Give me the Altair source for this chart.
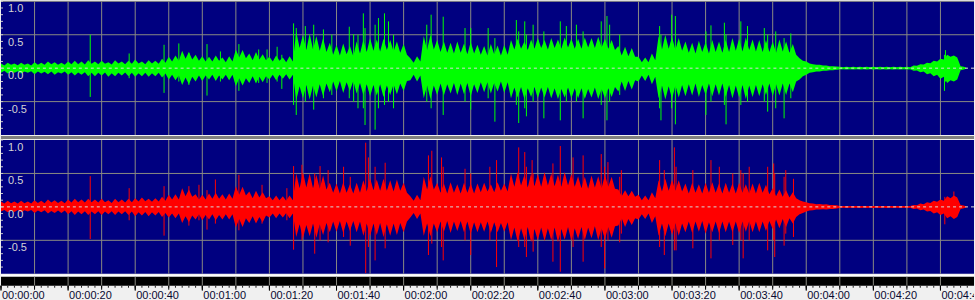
import altair as alt
import pandas as pd

# ---------------- data ----------------
TIME = list(range(0, 290, 2))       # times of the peak envelope samples, s
TIME_CORE = list(range(1, 290, 2))  # times of the solid-core samples, s

# outer envelope of the dense peaks (per 2 s)
GREEN_HI = [0.07, 0.08, 0.07, 0.08, 0.07,
            0.09, 0.08, 0.10, 0.09, 0.08,
            0.10, 0.11, 0.10, 0.12,
            0.10, 0.11, 0.09, 0.12, 0.10, 0.11,
            0.13, 0.10, 0.12, 0.11,
            0.14,
            0.17, 0.19,
            0.26, 0.24,
            0.20, 0.18,
            0.17, 0.19, 0.16, 0.18,
            0.28, 0.27,
            0.22, 0.24, 0.21,
            0.17, 0.19, 0.16, 0.18,
            0.55, 0.50, 0.52, 0.48, 0.45,
            0.38, 0.35, 0.37, 0.33, 0.40,
            0.42, 0.45, 0.43, 0.44, 0.42, 0.40, 0.36,
            0.15, 0.18,
            0.48, 0.50,
            0.42, 0.40, 0.38, 0.40, 0.37, 0.39,
            0.35, 0.33, 0.36, 0.34, 0.35,
            0.42, 0.44, 0.40, 0.43, 0.45, 0.42,
            0.45, 0.43, 0.46, 0.44,
            0.44, 0.46, 0.45, 0.47, 0.44, 0.42,
            0.33, 0.32, 0.30,
            0.17, 0.16, 0.22,
            0.48, 0.50, 0.47, 0.45,
            0.40, 0.38, 0.41, 0.39, 0.42, 0.40, 0.42,
            0.45, 0.44, 0.46, 0.43, 0.42,
            0.42, 0.40, 0.43, 0.40, 0.36,
            0.15,
            0.10,
            0.06, 0.05, 0.04, 0.03,
            0.02, 0.02, 0.02, 0.02, 0.02, 0.02, 0.02, 0.02, 0.02, 0.02, 0.02,
            0.04, 0.06, 0.08, 0.11, 0.14,
            0.20, 0.19,
            0.03,
            0.0]

GREEN_LO = [-0.07, -0.08, -0.07, -0.08, -0.07,
            -0.09, -0.08, -0.09, -0.10, -0.08,
            -0.10, -0.11, -0.10, -0.12,
            -0.12, -0.11, -0.13, -0.12, -0.11, -0.12,
            -0.13, -0.12, -0.13, -0.12,
            -0.14,
            -0.17, -0.18,
            -0.25, -0.24,
            -0.20, -0.19,
            -0.17, -0.19, -0.17, -0.18,
            -0.27, -0.26,
            -0.22, -0.23, -0.21,
            -0.17, -0.18, -0.16, -0.17,
            -0.48, -0.45, -0.47, -0.44, -0.42,
            -0.36, -0.35, -0.37, -0.34, -0.38,
            -0.40, -0.42, -0.41, -0.43, -0.40, -0.39, -0.34,
            -0.18, -0.20,
            -0.45, -0.46,
            -0.40, -0.41, -0.38, -0.40, -0.39, -0.42,
            -0.37, -0.36, -0.38, -0.35, -0.37,
            -0.45, -0.44, -0.46, -0.43, -0.45, -0.44,
            -0.45, -0.46, -0.44, -0.45,
            -0.45, -0.46, -0.44, -0.46, -0.45, -0.43,
            -0.35, -0.34, -0.32,
            -0.20, -0.19, -0.24,
            -0.45, -0.47, -0.46, -0.44,
            -0.42, -0.41, -0.43, -0.40, -0.42, -0.41, -0.43,
            -0.45, -0.44, -0.46, -0.43, -0.42,
            -0.40, -0.42, -0.41, -0.40, -0.36,
            -0.17,
            -0.10,
            -0.06, -0.05, -0.04, -0.03,
            -0.02, -0.02, -0.02, -0.02, -0.02, -0.02, -0.02, -0.02, -0.02, -0.02, -0.02,
            -0.04, -0.06, -0.09, -0.12, -0.16,
            -0.22, -0.20,
            -0.03,
            0.0]

RED_HI = [0.08, 0.09, 0.08, 0.09, 0.08,
          0.10, 0.09, 0.11, 0.10, 0.09,
          0.11, 0.12, 0.11, 0.12,
          0.11, 0.12, 0.10, 0.12, 0.11, 0.12,
          0.13, 0.14, 0.12, 0.13,
          0.15,
          0.18, 0.19,
          0.28, 0.26,
          0.19, 0.18,
          0.20, 0.21, 0.19, 0.20,
          0.31, 0.30,
          0.23, 0.24, 0.22,
          0.16, 0.17, 0.16, 0.17,
          0.50, 0.52, 0.50, 0.48, 0.47,
          0.36, 0.35, 0.37, 0.34, 0.36,
          0.40, 0.43, 0.41, 0.42, 0.40, 0.41, 0.36,
          0.16, 0.18,
          0.45, 0.46,
          0.36, 0.35, 0.37, 0.34, 0.36, 0.35,
          0.35, 0.36, 0.34, 0.37, 0.35,
          0.50, 0.52, 0.48, 0.50, 0.49, 0.52,
          0.50, 0.48, 0.52, 0.49,
          0.46, 0.45, 0.47, 0.46, 0.48, 0.45,
          0.26, 0.25, 0.24,
          0.18, 0.17, 0.22,
          0.40, 0.42, 0.41, 0.40,
          0.35, 0.36, 0.34, 0.36, 0.37, 0.35, 0.36,
          0.35, 0.36, 0.34, 0.35, 0.36,
          0.33, 0.28, 0.26, 0.25, 0.22,
          0.10,
          0.07,
          0.05, 0.045, 0.04, 0.03,
          0.015, 0.015, 0.015, 0.015, 0.015, 0.015, 0.015, 0.015, 0.015, 0.015, 0.015,
          0.03, 0.05, 0.07, 0.09, 0.11,
          0.16, 0.17,
          0.03,
          0.0]

RED_LO = [-0.07, -0.08, -0.075, -0.08, -0.07,
          -0.09, -0.08, -0.10, -0.09, -0.09,
          -0.11, -0.12, -0.11, -0.12,
          -0.11, -0.12, -0.11, -0.12, -0.11, -0.12,
          -0.14, -0.13, -0.14, -0.13,
          -0.15,
          -0.16, -0.17,
          -0.24, -0.23,
          -0.19, -0.20,
          -0.19, -0.20, -0.19, -0.19,
          -0.31, -0.30,
          -0.24, -0.25, -0.23,
          -0.16, -0.17, -0.16, -0.17,
          -0.45, -0.47, -0.44, -0.46, -0.42,
          -0.38, -0.37, -0.39, -0.36, -0.38,
          -0.43, -0.44, -0.42, -0.45, -0.43, -0.42, -0.38,
          -0.16, -0.18,
          -0.43, -0.44,
          -0.38, -0.37, -0.39, -0.36, -0.38, -0.40,
          -0.38, -0.37, -0.39, -0.38, -0.37,
          -0.50, -0.52, -0.49, -0.53, -0.50, -0.51,
          -0.50, -0.53, -0.49, -0.51,
          -0.48, -0.50, -0.47, -0.50, -0.48, -0.46,
          -0.28, -0.30, -0.27,
          -0.19, -0.18, -0.24,
          -0.43, -0.44, -0.42, -0.43,
          -0.38, -0.39, -0.37, -0.40, -0.38, -0.39, -0.38,
          -0.38, -0.39, -0.37, -0.38, -0.38,
          -0.36, -0.33, -0.32, -0.30, -0.25,
          -0.11,
          -0.07,
          -0.05, -0.04, -0.04, -0.03,
          -0.015, -0.015, -0.015, -0.015, -0.015, -0.015, -0.015, -0.015, -0.015, -0.015, -0.015,
          -0.03, -0.05, -0.07, -0.10, -0.12,
          -0.17, -0.18,
          -0.03,
          0.0]

# solid core of the waveform between the peaks (per 2 s)
GREEN_CORE_HI = [0.04, 0.05, 0.045, 0.05, 0.04,
                 0.05, 0.05, 0.06, 0.05, 0.05,
                 0.06, 0.06, 0.055, 0.065,
                 0.06, 0.065, 0.055, 0.07, 0.06, 0.065,
                 0.07, 0.06, 0.07, 0.065,
                 0.08,
                 0.10, 0.11,
                 0.14, 0.13,
                 0.11, 0.10,
                 0.10, 0.11, 0.09, 0.10,
                 0.16, 0.15,
                 0.12, 0.13, 0.12,
                 0.10, 0.11, 0.09, 0.10,
                 0.30, 0.27, 0.28, 0.26, 0.24,
                 0.20, 0.19, 0.21, 0.18, 0.22,
                 0.24, 0.26, 0.25, 0.27, 0.25, 0.23, 0.20,
                 0.08, 0.10,
                 0.27, 0.28,
                 0.24, 0.23, 0.22, 0.23, 0.21, 0.22,
                 0.20, 0.19, 0.21, 0.19, 0.20,
                 0.28, 0.29, 0.27, 0.29, 0.30, 0.28,
                 0.30, 0.29, 0.31, 0.29,
                 0.29, 0.31, 0.30, 0.31, 0.29, 0.27,
                 0.19, 0.18, 0.17,
                 0.09, 0.09, 0.12,
                 0.28, 0.29, 0.27, 0.26,
                 0.23, 0.22, 0.24, 0.22, 0.24, 0.23, 0.24,
                 0.26, 0.25, 0.27, 0.25, 0.24,
                 0.24, 0.23, 0.25, 0.23, 0.20,
                 0.11,
                 0.07,
                 0.05, 0.04, 0.03, 0.025,
                 0.015, 0.015, 0.015, 0.015, 0.015, 0.015, 0.015, 0.015, 0.015, 0.015, 0.015,
                 0.035, 0.055, 0.075, 0.10, 0.13,
                 0.17, 0.16,
                 0.02,
                 0.0]

GREEN_CORE_LO = [-0.04, -0.05, -0.045, -0.05, -0.045,
                 -0.05, -0.055, -0.05, -0.06, -0.05,
                 -0.06, -0.065, -0.06, -0.07,
                 -0.07, -0.065, -0.075, -0.07, -0.065, -0.07,
                 -0.075, -0.07, -0.075, -0.07,
                 -0.08,
                 -0.10, -0.11,
                 -0.14, -0.13,
                 -0.11, -0.11,
                 -0.10, -0.11, -0.10, -0.10,
                 -0.15, -0.15,
                 -0.12, -0.13, -0.12,
                 -0.10, -0.10, -0.09, -0.10,
                 -0.27, -0.25, -0.26, -0.24, -0.23,
                 -0.20, -0.19, -0.21, -0.19, -0.22,
                 -0.24, -0.25, -0.24, -0.26, -0.24, -0.23, -0.19,
                 -0.10, -0.11,
                 -0.26, -0.26,
                 -0.23, -0.24, -0.22, -0.23, -0.22, -0.24,
                 -0.21, -0.21, -0.22, -0.20, -0.21,
                 -0.29, -0.28, -0.30, -0.28, -0.29, -0.28,
                 -0.30, -0.31, -0.29, -0.30,
                 -0.30, -0.31, -0.29, -0.31, -0.30, -0.28,
                 -0.20, -0.19, -0.18,
                 -0.11, -0.10, -0.13,
                 -0.26, -0.27, -0.26, -0.25,
                 -0.24, -0.23, -0.25, -0.23, -0.24, -0.23, -0.25,
                 -0.26, -0.25, -0.26, -0.25, -0.24,
                 -0.23, -0.24, -0.23, -0.23, -0.20,
                 -0.12,
                 -0.07,
                 -0.05, -0.04, -0.03, -0.025,
                 -0.015, -0.015, -0.015, -0.015, -0.015, -0.015, -0.015, -0.015, -0.015, -0.015, -0.015,
                 -0.035, -0.05, -0.075, -0.10, -0.13,
                 -0.18, -0.17,
                 -0.02,
                 0.0]

RED_CORE_HI = [0.05, 0.055, 0.05, 0.055, 0.05,
               0.06, 0.055, 0.065, 0.06, 0.055,
               0.065, 0.07, 0.065, 0.07,
               0.065, 0.07, 0.06, 0.07, 0.065, 0.07,
               0.08, 0.085, 0.075, 0.08,
               0.09,
               0.11, 0.11,
               0.16, 0.15,
               0.11, 0.11,
               0.12, 0.12, 0.11, 0.12,
               0.18, 0.17,
               0.13, 0.14, 0.13,
               0.10, 0.10, 0.09, 0.10,
               0.28, 0.29, 0.28, 0.27, 0.26,
               0.21, 0.20, 0.21, 0.20, 0.21,
               0.23, 0.25, 0.24, 0.24, 0.23, 0.24, 0.21,
               0.09, 0.10,
               0.26, 0.26,
               0.21, 0.20, 0.21, 0.20, 0.21, 0.20,
               0.22, 0.23, 0.22, 0.24, 0.23,
               0.30, 0.32, 0.29, 0.31, 0.30, 0.32,
               0.31, 0.30, 0.32, 0.30,
               0.28, 0.27, 0.29, 0.28, 0.30, 0.27,
               0.16, 0.16, 0.15,
               0.10, 0.10, 0.13,
               0.23, 0.24, 0.24, 0.23,
               0.20, 0.21, 0.20, 0.21, 0.21, 0.20, 0.21,
               0.20, 0.21, 0.20, 0.20, 0.21,
               0.19, 0.16, 0.15, 0.14, 0.13,
               0.08,
               0.055,
               0.04, 0.035, 0.03, 0.025,
               0.012, 0.012, 0.012, 0.012, 0.012, 0.012, 0.012, 0.012, 0.012, 0.012, 0.012,
               0.025, 0.04, 0.06, 0.075, 0.09,
               0.13, 0.14,
               0.02,
               0.0]

RED_CORE_LO = [-0.045, -0.05, -0.045, -0.05, -0.045,
               -0.055, -0.05, -0.06, -0.055, -0.055,
               -0.065, -0.07, -0.065, -0.07,
               -0.065, -0.07, -0.065, -0.07, -0.065, -0.07,
               -0.08, -0.075, -0.08, -0.075,
               -0.09,
               -0.10, -0.10,
               -0.14, -0.13,
               -0.11, -0.12,
               -0.11, -0.12, -0.11, -0.11,
               -0.18, -0.17,
               -0.14, -0.15, -0.13,
               -0.10, -0.10, -0.09, -0.10,
               -0.26, -0.27, -0.25, -0.26, -0.24,
               -0.22, -0.21, -0.22, -0.21, -0.22,
               -0.25, -0.25, -0.24, -0.26, -0.25, -0.24, -0.22,
               -0.09, -0.10,
               -0.25, -0.25,
               -0.22, -0.21, -0.22, -0.21, -0.22, -0.23,
               -0.23, -0.22, -0.23, -0.24, -0.23,
               -0.31, -0.32, -0.30, -0.33, -0.31, -0.32,
               -0.31, -0.33, -0.30, -0.32,
               -0.30, -0.31, -0.29, -0.32, -0.30, -0.29,
               -0.17, -0.18, -0.17,
               -0.11, -0.10, -0.14,
               -0.25, -0.25, -0.24, -0.25,
               -0.22, -0.22, -0.21, -0.23, -0.22, -0.22, -0.22,
               -0.22, -0.22, -0.21, -0.22, -0.22,
               -0.21, -0.19, -0.18, -0.17, -0.15,
               -0.09,
               -0.055,
               -0.04, -0.035, -0.03, -0.025,
               -0.012, -0.012, -0.012, -0.012, -0.012, -0.012, -0.012, -0.012, -0.012, -0.012, -0.012,
               -0.025, -0.04, -0.06, -0.08, -0.10,
               -0.14, -0.15,
               -0.02,
               0.0]

# tall isolated peaks
GREEN_SPIKE_T = [26.6, 38.2, 48.6, 53.0, 56.0, 61.4, 65.4, 70.9, 76.8, 79.3, 82.3, 83.7,
                 87.2, 88.0, 90.7, 93.2, 96.1, 98.6, 103.8, 105.1, 106.4, 108.0, 108.5,
                 111.5, 112.5, 114.3, 115.5, 117.0, 126.9, 128.2, 131.8, 138.3, 140.0,
                 145.2, 147.2, 153.6, 154.3, 156.1, 156.6, 158.6, 161.8, 166.7, 168.5,
                 171.5, 173.5, 178.9, 180.6, 181.4, 184.4, 196.3, 196.7, 199.9, 201.0,
                 210.1, 211.6, 215.6, 216.1, 220.5, 222.5, 227.5, 228.5, 230.9, 233.4,
                 235.4, 281.2, 281.5]
GREEN_SPIKE_HI = [0.50, 0.22, 0.35, 0.37, 0.23, 0.36, 0.25, 0.36, 0.28, 0.28, 0.32, 0.20,
                  0.67, 0.60, 0.63, 0.65, 0.58, 0.50, 0.62, 0.51, 0.50, 0.82, 0.60,
                  0.65, 0.75, 0.82, 0.70, 0.50, 0.65, 0.80, 0.77, 0.60, 0.60,
                  0.60, 0.45, 0.72, 0.55, 0.70, 0.50, 0.65, 0.55, 0.70, 0.63,
                  0.65, 0.55, 0.70, 0.78, 0.65, 0.50, 0.63, 0.50, 0.80, 0.78,
                  0.55, 0.64, 0.68, 0.50, 0.70, 0.63, 0.60, 0.50, 0.55, 0.45,
                  0.52, 0.20, 0.27]
GREEN_SPIKE_LO = [-0.43, -0.15, -0.37, -0.20, -0.25, -0.41, -0.20, -0.34, -0.22, -0.22, -0.20, -0.31,
                  -0.55, -0.70, -0.50, -0.62, -0.45, -0.40, -0.45, -0.50, -0.60, -0.60, -0.85,
                  -0.92, -0.60, -0.55, -0.50, -0.60, -0.50, -0.60, -0.70, -0.50, -0.62,
                  -0.45, -0.80, -0.55, -0.82, -0.60, -0.72, -0.50, -0.75, -0.78, -0.50,
                  -0.50, -0.75, -0.55, -0.78, -0.50, -0.40, -0.60, -0.78, -0.60, -0.84,
                  -0.70, -0.50, -0.55, -0.84, -0.55, -0.50, -0.50, -0.65, -0.60, -0.75,
                  -0.45, -0.34, -0.20]

RED_SPIKE_T = [26.6, 38.2, 48.6, 56.0, 59.0, 61.4, 63.9, 70.9, 77.8, 85.2,
               87.2, 89.7, 93.5, 95.1, 97.5, 102.1, 104.1, 108.7, 109.5, 111.5,
               114.5, 127.4, 128.4, 131.3, 131.8, 138.3, 140.0, 145.7, 147.7, 154.3,
               156.1, 156.6, 158.3, 158.6, 164.5, 166.7, 170.5, 173.5, 178.9, 179.9,
               180.9, 184.4, 184.9, 196.3, 197.7, 200.7, 201.2, 206.2, 211.6, 214.1,
               218.1, 220.5, 221.2, 223.0, 228.5, 230.3, 230.6, 233.4, 233.9, 236.2,
               281.3, 284.0]
RED_SPIKE_HI = [0.46, 0.28, 0.31, 0.31, 0.33, 0.25, 0.41, 0.48, 0.33, 0.28,
                0.61, 0.63, 0.50, 0.61, 0.55, 0.60, 0.45, 0.96, 0.74, 0.60,
                0.66, 0.77, 0.84, 0.74, 0.60, 0.57, 0.50, 0.60, 0.70, 0.89,
                0.82, 0.60, 0.70, 0.50, 0.65, 0.91, 0.74, 0.77, 0.79, 0.60,
                0.67, 0.45, 0.55, 0.70, 0.55, 0.89, 0.60, 0.55, 0.70, 0.60,
                0.50, 0.55, 0.50, 0.60, 0.60, 0.65, 0.50, 0.45, 0.55, 0.42,
                0.15, 0.23]
RED_SPIKE_LO = [-0.48, -0.20, -0.43, -0.28, -0.20, -0.34, -0.25, -0.35, -0.25, -0.20,
                -0.64, -0.50, -0.70, -0.50, -0.53, -0.45, -0.58, -0.99, -0.60, -0.80,
                -0.62, -0.72, -0.55, -0.60, -0.80, -0.50, -0.72, -0.50, -0.90, -0.60,
                -0.60, -0.75, -0.50, -0.67, -0.82, -0.97, -0.60, -0.82, -0.60, -0.92,
                -0.50, -0.53, -0.40, -0.60, -0.72, -0.65, -0.65, -0.62, -0.77, -0.50,
                -0.57, -0.50, -0.77, -0.50, -0.65, -0.50, -0.75, -0.58, -0.40, -0.45,
                -0.26, -0.15]

GRID_TIMES = [10, 20, 30, 40, 50, 60, 70, 80, 90, 100, 110, 120, 130, 140, 150, 160,
              170, 180, 190, 200, 210, 220, 230, 240, 250, 260, 270, 280]
MINOR_TICK_TIMES = TIME
MAJOR_TICK_TIMES = [0] + GRID_TIMES
LABEL_TIMES = [0, 20, 40, 60, 80, 100, 120, 140, 160, 180, 200, 220, 240, 260, 280]
LABELS = ["00:00:00", "00:00:20", "00:00:40", "00:01:00", "00:01:20", "00:01:40",
          "00:02:00", "00:02:20", "00:02:40", "00:03:00", "00:03:20", "00:03:40",
          "00:04:00", "00:04:20", "00:04:40"]
Y_LABEL_VALUES = [1.0, 0.5, 0.0, -0.5]
Y_LABELS = ["1.0", "0.5", "0.0", "-0.5"]
Y_MINOR = [1.0, 0.9, 0.8, 0.7, 0.6, 0.5, 0.4, 0.3, 0.2, 0.1, 0.0,
           -0.1, -0.2, -0.3, -0.4, -0.5, -0.6, -0.7, -0.8, -0.9]

for arr in (GREEN_HI, GREEN_LO, RED_HI, RED_LO,
            GREEN_CORE_HI, GREEN_CORE_LO, RED_CORE_HI, RED_CORE_LO):
    assert len(arr) == len(TIME) == len(TIME_CORE)

# ---------------- style ----------------
W = 975
CH_H = 134
NAVY = "#000080"
GRID = "#8a8a82"
FONT = "Liberation Sans"

xs = alt.Scale(domain=[0, 290], nice=False, zero=False)
ys = alt.Scale(domain=[-1, 1], nice=False, zero=False)


def channel(hi, lo, core_hi, core_lo, sp_t, sp_hi, sp_lo, color, hgrid):
    # peaks (even seconds) and core (odd seconds) together outline the waveform
    wave = pd.concat([
        pd.DataFrame({"t": TIME, "hi": hi, "lo": lo}),
        pd.DataFrame({"t": TIME_CORE, "hi": core_hi, "lo": core_lo}),
    ]).sort_values("t")
    spikes = pd.DataFrame({"t": sp_t, "hi": sp_hi, "lo": sp_lo})
    X = alt.X("t:Q", scale=xs, axis=None)

    vgrid = alt.Chart(pd.DataFrame({"t": GRID_TIMES})).mark_rule(
        color=GRID, strokeWidth=1).encode(x=X)
    hg = alt.Chart(pd.DataFrame({"v": hgrid})).mark_rule(
        color=GRID, strokeWidth=1).encode(y=alt.Y("v:Q", scale=ys, axis=None))
    body = alt.Chart(wave).mark_area(color=color, opacity=1, interpolate="linear").encode(
        x=X, y=alt.Y("hi:Q", scale=ys, axis=None), y2=alt.Y2("lo:Q"))
    sp = alt.Chart(spikes).mark_rule(color=color, strokeWidth=1).encode(
        x=X, y=alt.Y("hi:Q", scale=ys, axis=None), y2=alt.Y2("lo:Q"))
    zero = alt.Chart(pd.DataFrame({"v": [0.0]})).mark_rule(
        color="#d8d8d8", strokeWidth=1, strokeDash=[3, 3]).encode(
        y=alt.Y("v:Q", scale=ys, axis=None))
    minor = alt.Chart(pd.DataFrame({"v": Y_MINOR})).mark_rule(
        color="#c8c8c8", strokeWidth=1).encode(
        y=alt.Y("v:Q", scale=ys, axis=None), x=alt.value(0), x2=alt.value(2))
    labels = alt.Chart(pd.DataFrame({"v": Y_LABEL_VALUES, "s": Y_LABELS})).mark_text(
        align="left", baseline="alphabetic", dy=11, font=FONT, fontSize=11,
        color="#d4d4d4").encode(
        y=alt.Y("v:Q", scale=ys, axis=None), x=alt.value(7), text="s:N")
    return alt.layer(vgrid, hg, body, sp, zero, minor, labels).properties(
        width=W, height=CH_H,
        view=alt.ViewBackground(fill=NAVY, stroke="transparent", strokeWidth=0))


top = channel(GREEN_HI, GREEN_LO, GREEN_CORE_HI, GREEN_CORE_LO,
              GREEN_SPIKE_T, GREEN_SPIKE_HI, GREEN_SPIKE_LO, "#00ff00", [1.0, 0.5, -0.5])
bottom = channel(RED_HI, RED_LO, RED_CORE_HI, RED_CORE_LO,
                 RED_SPIKE_T, RED_SPIKE_HI, RED_SPIKE_LO, "#ff0000", [0.5, -0.5])

sep = alt.Chart(pd.DataFrame({"v": [0]})).mark_rule(color="#808080", opacity=0).encode(
    y=alt.value(0)).properties(
    width=W, height=3,
    view=alt.ViewBackground(fill="#808080", stroke="transparent", strokeWidth=0))

one = pd.DataFrame({"v": [0]})
XB = alt.X("t:Q", scale=xs, axis=None)
white_line = alt.Chart(one).mark_rule(color="#ffffff", strokeWidth=2).encode(
    x=alt.value(0), x2=alt.value(W), y=alt.value(1))
band = alt.Chart(one).mark_rect(color="#000000").encode(
    x=alt.value(0), x2=alt.value(W), y=alt.value(2), y2=alt.value(11))
band_grid = alt.Chart(pd.DataFrame({"t": GRID_TIMES})).mark_rule(
    color=GRID, strokeWidth=1).encode(x=XB, y=alt.value(2), y2=alt.value(11))
minor_ticks = alt.Chart(pd.DataFrame({"t": MINOR_TICK_TIMES})).mark_rule(
    color="#202020", strokeWidth=1).encode(x=XB, y=alt.value(11), y2=alt.value(13))
major_ticks = alt.Chart(pd.DataFrame({"t": MAJOR_TICK_TIMES})).mark_rule(
    color="#000000", strokeWidth=1).encode(x=XB, y=alt.value(11), y2=alt.value(15))
label_ticks = alt.Chart(pd.DataFrame({"t": LABEL_TIMES})).mark_rule(
    color="#000000", strokeWidth=1).encode(x=XB, y=alt.value(11), y2=alt.value(16))
time_labels = alt.Chart(pd.DataFrame({"t": LABEL_TIMES, "s": LABELS})).mark_text(
    align="left", baseline="alphabetic", dx=1, font=FONT, fontSize=11,
    color="#0a0a30", clip=True).encode(x=XB, y=alt.value(24.5), text="s:N")

base = alt.layer(white_line, band, band_grid, minor_ticks, major_ticks, label_ticks,
                 time_labels).properties(
    width=W, height=29,
    view=alt.ViewBackground(fill="#f0f0f0", stroke="transparent", strokeWidth=0))

chart = alt.vconcat(top, sep, bottom, base, spacing=0, padding=0,
                    background="#f0f0f0").configure_view(stroke="transparent", strokeWidth=0)

chart.save("out.html", embed_options={"renderer": "svg", "actions": False})
